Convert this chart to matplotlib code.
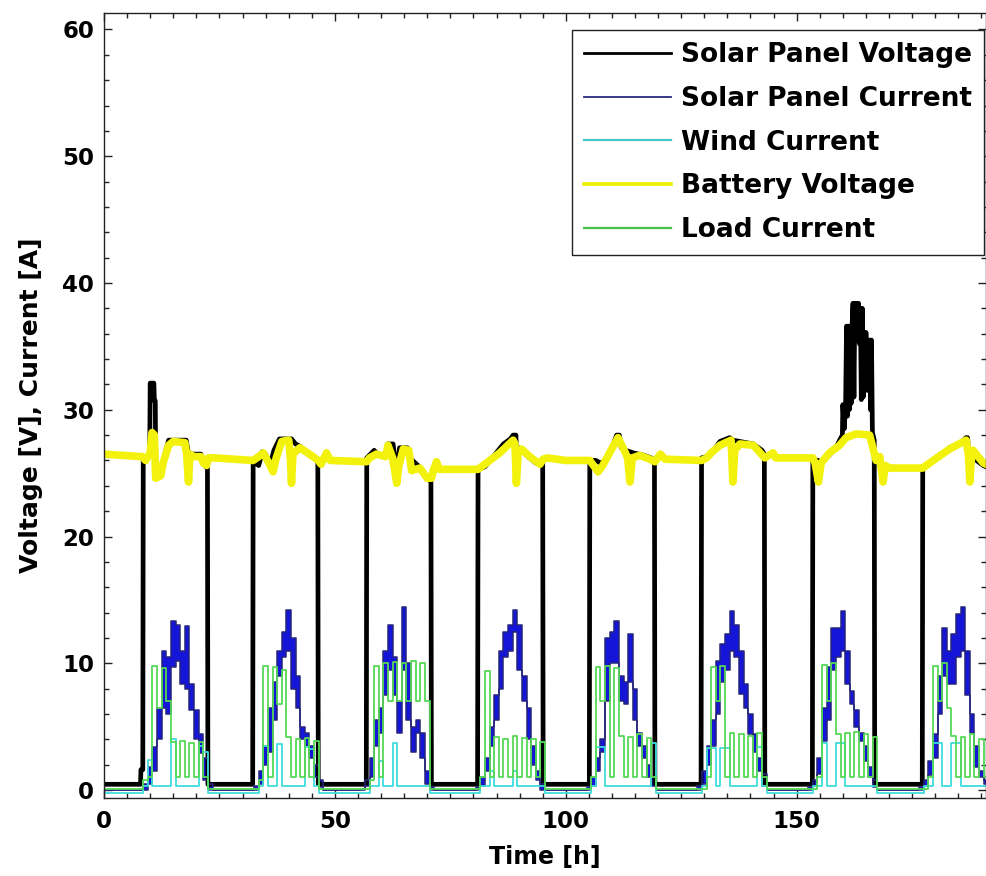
import matplotlib
matplotlib.use("Agg")
import matplotlib.pyplot as plt
from matplotlib.lines import Line2D
from matplotlib.ticker import MultipleLocator

plt.rcParams['font.family'] = ['DejaVu Sans']
plt.rcParams['font.weight'] = 'bold'

# ---------------- data (hourly grid 0..191 h) ----------------
hours = list(range(0, 192))

# Solar panel current: upper / lower envelope of the ripple band [A], one list per day
sc_hi_d1 = [0, 0, 0, 0, 0, 0, 0, 0, 0, 0.5, 1.8, 3.4, 6.5, 11, 10.5, 13.3, 13.0, 11, 12.9, 8.4, 6.3, 4.4, 2.5, 0.5]
sc_hi_d2 = [0, 0, 0, 0, 0, 0, 0, 0, 0, 0.3, 1.5, 3.5, 6.5, 8.5, 11, 12.5, 14.2, 12, 9, 5, 4.5, 3.5, 2.0, 0.8]
sc_hi_d3 = [0, 0, 0, 0, 0, 0, 0, 0, 0.1, 0.8, 2.5, 5.5, 6.5, 11, 13, 10.5, 7, 14.4, 10, 5, 5.5, 4.5, 1.5, 0.2]
sc_hi_d4 = [0, 0, 0, 0, 0, 0, 0, 0, 0, 0.2, 1.0, 2.5, 5, 7.5, 11, 12.5, 13, 14.2, 13, 9, 6.5, 3.5, 1.5, 0.5]
sc_hi_d5 = [0, 0, 0, 0, 0, 0, 0, 0, 0, 0.2, 1.0, 2.5, 4, 12, 12.5, 13.3, 9, 8.5, 12.3, 8, 4.5, 3.5, 2, 1.0]
sc_hi_d6 = [0, 0, 0, 0, 0, 0, 0, 0, 0, 0.3, 1.5, 3.5, 5.5, 10.2, 11.5, 12.3, 14.1, 13, 11, 8.4, 6, 4.4, 2.5, 1.3]
sc_hi_d7 = [0, 0, 0, 0, 0, 0, 0, 0, 0, 0.2, 0.8, 2.5, 6.5, 9.7, 12.8, 12.8, 14.1, 11, 7.8, 6.3, 4.5, 3.5, 1.8, 0.8]
sc_hi_d8 = [0, 0, 0, 0, 0, 0, 0, 0, 0, 0.2, 0.8, 2.3, 4.4, 9, 12.8, 11, 12.3, 13.9, 14.4, 11, 6, 3.5, 1.5, 0.8]

sc_lo_d1 = [0, 0, 0, 0, 0, 0, 0, 0, 0, 0, 0.5, 1.5, 4, 6.5, 6, 9.7, 10.2, 8.4, 8, 6.3, 4, 2.9, 0.8, 0]
sc_lo_d2 = [0, 0, 0, 0, 0, 0, 0, 0, 0, 0, 0.5, 2.0, 3, 5.5, 9, 10.5, 11, 8, 6.5, 4, 3.5, 2.5, 1.0, 0.2]
sc_lo_d3 = [0, 0, 0, 0, 0, 0, 0, 0, 0, 0.3, 1, 3.5, 4.5, 7.5, 9.5, 7.5, 4.5, 9.5, 5.5, 3, 4.5, 2.5, 0.5, 0]
sc_lo_d4 = [0, 0, 0, 0, 0, 0, 0, 0, 0, 0, 0.3, 1.5, 3.5, 5.5, 8, 10.5, 11, 12.5, 9.5, 7, 4, 2, 0.8, 0]
sc_lo_d5 = [0, 0, 0, 0, 0, 0, 0, 0, 0, 0, 0.3, 1.5, 3, 7, 10, 10, 7, 6.8, 8.5, 5.5, 3.5, 2.5, 1, 0.3]
sc_lo_d6 = [0, 0, 0, 0, 0, 0, 0, 0, 0, 0, 0.5, 2, 3.5, 6, 8.5, 9.5, 11, 10.5, 7.6, 6.5, 4.4, 3.0, 1.5, 0.3]
sc_lo_d7 = [0, 0, 0, 0, 0, 0, 0, 0, 0, 0, 0.3, 1.3, 3.9, 5.5, 9.5, 10.5, 11, 8.4, 6.8, 5.0, 3.9, 2.3, 1.0, 0.2]
sc_lo_d8 = [0, 0, 0, 0, 0, 0, 0, 0, 0, 0, 0.3, 1.2, 2.5, 6, 9, 8.4, 8.4, 10.5, 11, 7.5, 4.5, 1.8, 1.0, 0.5]

# Wind current [A]
wind_d1 = [-0.25, -0.25, -0.25, -0.25, -0.25, -0.25, -0.25, -0.25, -0.25, 0.3, 2.4, 0.3, 0.3, 0.3, 0.3, 4.0, 0.3, 0.3, 0.3, 0.3, 0.3, 3.5, 3.0, -0.25]
wind_d2 = [-0.25, -0.25, -0.25, -0.25, -0.25, -0.25, -0.25, -0.25, -0.25, -0.25, 0.3, 3.5, 0.3, 0.3, 3.6, 0.3, 0.3, 0.3, 0.3, 0.3, 3.4, 3.2, 0.3, -0.25]
wind_d3 = [-0.25, -0.25, -0.25, -0.25, -0.25, -0.25, -0.25, -0.25, -0.25, -0.25, 0.3, 0.3, 2.3, 0.3, 0.3, 3.7, 0.3, 0.3, 0.3, 0.3, 0.3, 0.3, 0.3, -0.25]
wind_d4 = [-0.25, -0.25, -0.25, -0.25, -0.25, -0.25, -0.25, -0.25, -0.25, -0.25, 0.3, 0.3, 1.5, 0.3, 0.3, 0.3, 0.3, 1.5, 0.3, 0.3, 0.3, 0.3, 0.3, 0.3]
wind_d5 = [-0.25, -0.25, -0.25, -0.25, -0.25, -0.25, -0.25, -0.25, -0.25, -0.25, 0.3, 3.4, 3.4, 0.3, 0.3, 0.3, 0.3, 0.3, 0.3, 0.3, 0.3, 0.3, 0.3, 3.7]
wind_d6 = [-0.25, -0.25, -0.25, -0.25, -0.25, -0.25, -0.25, -0.25, -0.25, -0.25, 0.3, 3.3, 3.3, 0.3, 3.3, 3.3, 0.3, 0.3, 0.3, 0.3, 0.3, 0.3, 3.4, 0.3]
wind_d7 = [-0.25, -0.25, -0.25, -0.25, -0.25, -0.25, -0.25, -0.25, -0.25, -0.25, 0.3, 0.3, 3.7, 0.3, 0.3, 3.7, 3.7, 0.3, 0.3, 0.3, 0.3, 0.3, 0.3, 0.3]
wind_d8 = [-0.25, -0.25, -0.25, -0.25, -0.25, -0.25, -0.25, -0.25, -0.25, -0.25, 0.3, 0.3, 3.7, 3.7, 0.3, 0.3, 3.7, 3.7, 0.3, 0.3, 0.3, 0.3, 0.3, 0.3]

# Load current [A]
load_d1 = [0.05, 0.05, 0.05, 0.05, 0.05, 0.05, 0.05, 0.05, 0.05, 0.8, 1.0, 9.8, 6.5, 9.6, 7.0, 3.8, 1.0, 3.9, 1.0, 3.7, 1.0, 3.8, 1.0, 0.05]
load_d2 = [0.05, 0.05, 0.05, 0.05, 0.05, 0.05, 0.05, 0.05, 0.05, 0.05, 0.8, 9.8, 1.0, 9.7, 6.8, 9.5, 4.2, 1.0, 4.0, 1.0, 4.1, 1.0, 3.9, 0.05]
load_d3 = [0.05, 0.05, 0.05, 0.05, 0.05, 0.05, 0.05, 0.05, 0.05, 0.05, 0.8, 9.8, 1.0, 10.0, 7.0, 10.1, 7.0, 10.0, 7.0, 10.2, 7.0, 10.0, 7.0, 0.05]
load_d4 = [0.05, 0.05, 0.05, 0.05, 0.05, 0.05, 0.05, 0.05, 0.05, 0.05, 1.0, 9.4, 1.0, 4.2, 1.0, 4.0, 1.0, 4.3, 1.0, 4.1, 1.0, 4.0, 1.0, 3.8]
load_d5 = [0.05, 0.05, 0.05, 0.05, 0.05, 0.05, 0.05, 0.05, 0.05, 0.05, 1.0, 9.7, 7.0, 9.8, 1.0, 9.6, 4.3, 1.0, 4.2, 1.0, 4.4, 1.0, 4.1, 1.0]
load_d6 = [0.05, 0.05, 0.05, 0.05, 0.05, 0.05, 0.05, 0.05, 0.05, 0.05, 0.05, 1.0, 9.7, 7.0, 9.8, 1.0, 4.5, 1.0, 4.4, 1.0, 4.3, 1.0, 4.5, 1.0]
load_d7 = [0.05, 0.05, 0.05, 0.05, 0.05, 0.05, 0.05, 0.05, 0.05, 0.05, 0.05, 1.0, 9.9, 7.0, 10.0, 4.4, 1.0, 4.5, 1.0, 4.6, 1.0, 4.4, 1.0, 4.2]
load_d8 = [0.05, 0.05, 0.05, 0.05, 0.05, 0.05, 0.05, 0.05, 0.05, 0.05, 0.05, 1.0, 9.8, 7.0, 10.0, 6.5, 4.3, 1.0, 4.2, 1.0, 4.4, 1.0, 4.0, 1.0]

# Solar panel voltage [V] (time h, value)
solar_voltage = [
    (0, 0.45), (7.9, 0.45), (8.0, 1.6), (8.4, 1.6), (8.5, 26.0), (9.9, 26.5), (10.0, 32.1), (10.8, 32.1),
    (10.9, 30.7), (11.1, 30.7), (11.2, 25.3), (12.5, 25.3), (13.0, 26.3), (14.0, 27.6), (17.8, 27.6),
    (18.2, 26.7), (19.0, 26.5), (21.0, 26.5), (22.0, 25.5), (22.4, 25.5), (22.5, 0.45),
    (32.2, 0.45), (32.3, 25.9), (33.5, 25.6), (34.3, 26.7), (35.0, 26.5), (36.0, 25.7), (36.8, 26.8),
    (38.0, 27.7), (40.6, 27.7), (41.5, 27.3), (42.5, 27.1), (44.5, 26.4), (46.3, 26.0), (46.4, 0.45),
    (56.8, 0.45), (56.9, 26.2), (58.5, 26.8), (59.5, 26.4), (61.0, 26.4), (61.4, 27.3), (62.6, 27.3),
    (63.0, 26.0), (63.4, 25.2), (64.0, 27.0), (65.7, 27.0), (66.5, 26.1), (68.0, 25.6), (69.5, 24.9),
    (70.8, 24.3), (70.9, 0.45),
    (80.9, 0.45), (81.0, 25.3), (82.5, 25.5), (84.5, 26.4), (86.5, 27.3), (88.0, 27.7), (88.6, 28.0),
    (89.2, 28.0), (89.4, 26.0), (89.8, 27.0), (91.5, 26.4), (93.5, 25.8), (95.0, 25.8), (95.1, 0.45),
    (105.1, 0.45), (105.2, 26.0), (106.5, 26.0), (107.5, 25.8), (108.8, 26.0), (110.5, 27.5), (111.0, 28.0),
    (111.6, 28.0), (112.0, 27.0), (113.0, 26.8), (114.6, 26.6), (117.0, 26.4), (118.5, 26.2), (119.2, 26.0),
    (119.3, 0.45),
    (129.3, 0.45), (129.4, 26.2), (130.5, 26.3), (132.0, 26.8), (133.4, 27.5), (135.5, 27.8), (136.2, 27.6),
    (137.7, 27.5), (140.6, 27.3), (142.5, 26.8), (143.0, 26.5), (143.1, 0.45),
    (153.4, 0.45), (153.5, 26.1), (154.6, 26.0), (155.5, 25.9), (157.0, 26.4), (158.5, 27.0), (159.3, 27.6),
    (159.9, 28.0), (160.0, 30.4), (160.3, 28.5), (160.6, 30.4), (160.8, 36.6), (161.0, 29.5), (161.2, 36.6),
    (161.4, 30.0), (161.6, 36.6), (161.8, 30.5), (162.0, 36.6), (162.2, 38.4), (162.4, 31.0), (162.6, 38.4),
    (162.8, 35.5), (163.0, 38.4), (163.2, 35.5), (163.4, 38.4), (163.6, 35.2), (163.8, 38.0), (164.0, 30.8),
    (164.2, 38.0), (164.4, 31.0), (164.6, 36.1), (164.8, 31.5), (165.0, 36.1), (165.2, 32.0), (165.4, 35.5),
    (165.6, 31.5), (165.8, 35.5), (166.0, 30.0), (166.2, 35.5), (166.4, 28.2), (166.8, 27.6), (166.9, 0.45),
    (177.2, 0.45), (177.3, 25.5), (178.8, 25.8), (180.5, 26.2), (183.1, 27.0), (185.5, 27.4), (186.7, 27.8),
    (187.0, 27.8), (187.3, 26.5), (188.2, 26.2), (190.4, 25.6), (191.0, 25.5),
]

# Battery voltage [V] (time h, value)
battery_voltage = [
    (0, 26.5), (4, 26.4), (8.3, 26.3), (9.0, 26.0), (10.0, 26.6), (10.4, 28.2), (10.9, 28.0), (11.2, 24.6),
    (12.3, 24.8), (12.8, 25.8), (14.0, 27.2), (15.0, 27.5), (17.5, 27.4), (17.9, 26.5), (18.3, 24.3),
    (18.6, 26.5), (19.5, 26.3), (21.0, 26.3), (21.5, 25.8), (22.2, 25.6), (22.6, 26.2), (24.0, 26.2),
    (32.3, 26.0), (33.5, 26.3), (34.5, 26.6), (36.0, 25.6), (36.6, 25.1), (37.3, 26.2), (38.5, 27.5),
    (40.0, 27.6), (40.4, 26.0), (40.6, 24.2), (40.9, 26.5), (42.4, 27.0), (44.5, 26.5), (46.4, 26.0),
    (47.0, 25.7), (48.2, 26.6), (49.0, 26.0), (56.9, 25.9), (57.5, 26.2), (59.0, 26.5), (61.0, 26.3),
    (61.5, 27.2), (62.5, 26.2), (63.4, 24.2), (63.8, 25.5), (64.8, 26.9), (66.0, 26.8), (66.6, 25.2),
    (68.4, 25.4), (70.0, 24.6), (70.9, 24.6), (71.4, 25.3), (72.0, 25.9), (72.6, 25.3), (81.0, 25.3),
    (82.1, 25.6), (85.7, 26.6), (88.6, 27.6), (89.0, 27.3), (89.3, 24.2), (89.7, 26.6), (90.4, 26.9),
    (92.2, 26.3), (94.4, 25.7), (95.1, 26.1), (96.0, 26.2), (100.0, 26.0), (105.2, 26.0), (106.0, 25.6),
    (107.0, 25.1), (108.0, 25.6), (109.5, 26.6), (111.3, 27.8), (112.4, 27.0), (113.4, 26.2), (113.9, 24.3),
    (114.4, 26.2), (116.0, 26.4), (118.2, 26.1), (119.3, 25.9), (120.5, 26.5), (121.5, 26.1), (129.4, 26.0),
    (130.5, 26.2), (131.5, 26.6), (133.4, 27.2), (135.8, 27.6), (136.2, 24.3), (136.6, 26.8), (137.7, 27.3),
    (140.6, 27.2), (143.1, 26.2), (144.9, 26.6), (145.5, 26.2), (153.5, 26.2), (154.0, 25.8), (154.7, 24.3),
    (155.3, 25.8), (157.1, 26.6), (159.3, 27.2), (160.7, 27.8), (162.9, 28.1), (165.8, 28.0), (166.5, 27.0),
    (167.2, 26.0), (168.0, 26.3), (168.7, 24.3), (169.2, 25.6), (170.1, 25.4), (177.3, 25.4), (178.8, 25.8),
    (183.1, 26.9), (186.7, 27.6), (187.2, 26.5), (187.5, 24.3), (187.9, 26.5), (188.2, 26.8), (190.4, 25.8),
    (191.0, 25.7),
]

series_labels = ["Solar Panel Voltage", "Solar Panel Current", "Wind Current",
                 "Battery Voltage", "Load Current"]
x_ticks = [0, 50, 100, 150]
y_ticks = [0, 10, 20, 30, 40, 50, 60]

# ---------------- assemble ----------------
sc_hi = sc_hi_d1 + sc_hi_d2 + sc_hi_d3 + sc_hi_d4 + sc_hi_d5 + sc_hi_d6 + sc_hi_d7 + sc_hi_d8
sc_lo = sc_lo_d1 + sc_lo_d2 + sc_lo_d3 + sc_lo_d4 + sc_lo_d5 + sc_lo_d6 + sc_lo_d7 + sc_lo_d8
wind = wind_d1 + wind_d2 + wind_d3 + wind_d4 + wind_d5 + wind_d6 + wind_d7 + wind_d8
load = load_d1 + load_d2 + load_d3 + load_d4 + load_d5 + load_d6 + load_d7 + load_d8
sv_t = [p[0] for p in solar_voltage]
sv_v = [p[1] for p in solar_voltage]
bv_t = [p[0] for p in battery_voltage]
bv_v = [p[1] for p in battery_voltage]

fig = plt.figure(figsize=(9.87, 8.76), dpi=100)
ax = fig.add_axes([104 / 987, 78 / 876, 882 / 987, 785 / 876])

ax.plot(sv_t, sv_v, color='black', lw=3.4)
ax.fill_between(hours, sc_lo, sc_hi, step='mid', color='#1515d8', lw=0)
ax.plot(hours, sc_hi, drawstyle='steps-mid', color='#25257c', lw=1.1)
ax.plot(hours, sc_lo, drawstyle='steps-mid', color='#25257c', lw=1.1)
ax.plot(hours, wind, drawstyle='steps-mid', color='#3fdcdc', lw=1.3)
ax.plot(bv_t, bv_v, color='#f2f20c', lw=5.5)
ax.plot(hours, load, drawstyle='steps-mid', color='#55d955', lw=1.3)

ax.set_xlim(0, 191)
ax.set_ylim(-0.63, 61.3)
ax.set_xticks(x_ticks)
ax.set_yticks(y_ticks)
ax.xaxis.set_minor_locator(MultipleLocator(5))
ax.yaxis.set_minor_locator(MultipleLocator(2))
ax.tick_params(which='both', direction='in', top=True, right=True, width=1.0, color='#222222')
ax.tick_params(which='major', length=6, labelsize=16.5)
ax.tick_params(axis='x', which='major', pad=9)
ax.tick_params(axis='y', which='major', pad=7)
ax.tick_params(which='minor', length=3.5)
for lab in ax.get_xticklabels() + ax.get_yticklabels():
    lab.set_fontweight('bold')
for s in ax.spines.values():
    s.set_linewidth(1.0)
    s.set_color('#222222')

ax.set_xlabel("Time [h]", fontsize=17, fontweight='bold', labelpad=8)
ax.set_ylabel("Voltage [V], Current [A]", fontsize=18, fontweight='bold', labelpad=14)

handles = [
    Line2D([], [], color='black', lw=2.0),
    Line2D([], [], color='#2a2a80', lw=1.3),
    Line2D([], [], color='#48c8c8', lw=1.6),
    Line2D([], [], color='#eeee00', lw=2.6),
    Line2D([], [], color='#44c044', lw=1.6),
]
leg = ax.legend(handles, series_labels, loc='upper right', bbox_to_anchor=(0.998, 0.978),
                prop={'size': 19, 'weight': 'bold'}, handlelength=3.3, handletextpad=0.38,
                labelspacing=0.67, borderpad=0.45, fancybox=False, framealpha=1,
                edgecolor='#222222', borderaxespad=0)
leg.get_frame().set_linewidth(1.0)

fig.savefig("out.png", dpi=100)
